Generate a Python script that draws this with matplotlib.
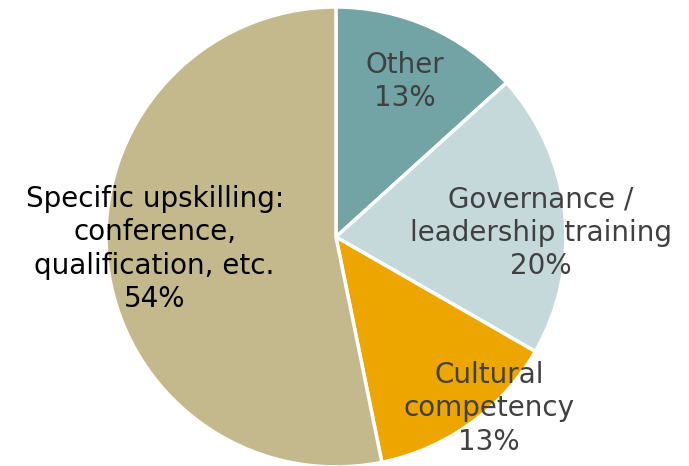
import numpy as np
import matplotlib.pyplot as plt

labels = ["Other", "Governance /\nleadership training", "Cultural\ncompetency",
          "Specific upskilling:\nconference,\nqualification, etc."]
pct_text = ["13%", "20%", "13%", "54%"]
values = [13.3, 20.0, 13.5, 53.2]
colors = ["#72A3A5", "#C5D9DA", "#EDA500", "#C4B98C"]
text_colors = ["#404040", "#404040", "#404040", "#000000"]

# label placement: (radius fraction, angle offset deg) per wedge
label_r = [0.74, 0.89, 1.0, 0.79]
label_da = [0, -5, 6, -2]

fig = plt.figure(figsize=(6.89, 4.66), dpi=100)
ax = fig.add_axes([0.1538, -0.002, 0.6676, 0.987])
wedges, _ = ax.pie(values, colors=colors, startangle=90, counterclock=False,
                   wedgeprops=dict(edgecolor="white", linewidth=2.5))
ax.set_xlim(-1, 1)
ax.set_ylim(-1, 1)
ax.set_aspect("equal")
ax.axis("off")

for w, lab, p, c, r, da in zip(wedges, labels, pct_text, text_colors, label_r, label_da):
    ang = np.deg2rad((w.theta1 + w.theta2) / 2 + da)
    ax.text(r * np.cos(ang), r * np.sin(ang), lab + "\n" + p, ha="center", va="center",
            fontsize=20, color=c, family="DejaVu Sans", linespacing=1.25, clip_on=False)

fig.savefig("out.png", dpi=100)
